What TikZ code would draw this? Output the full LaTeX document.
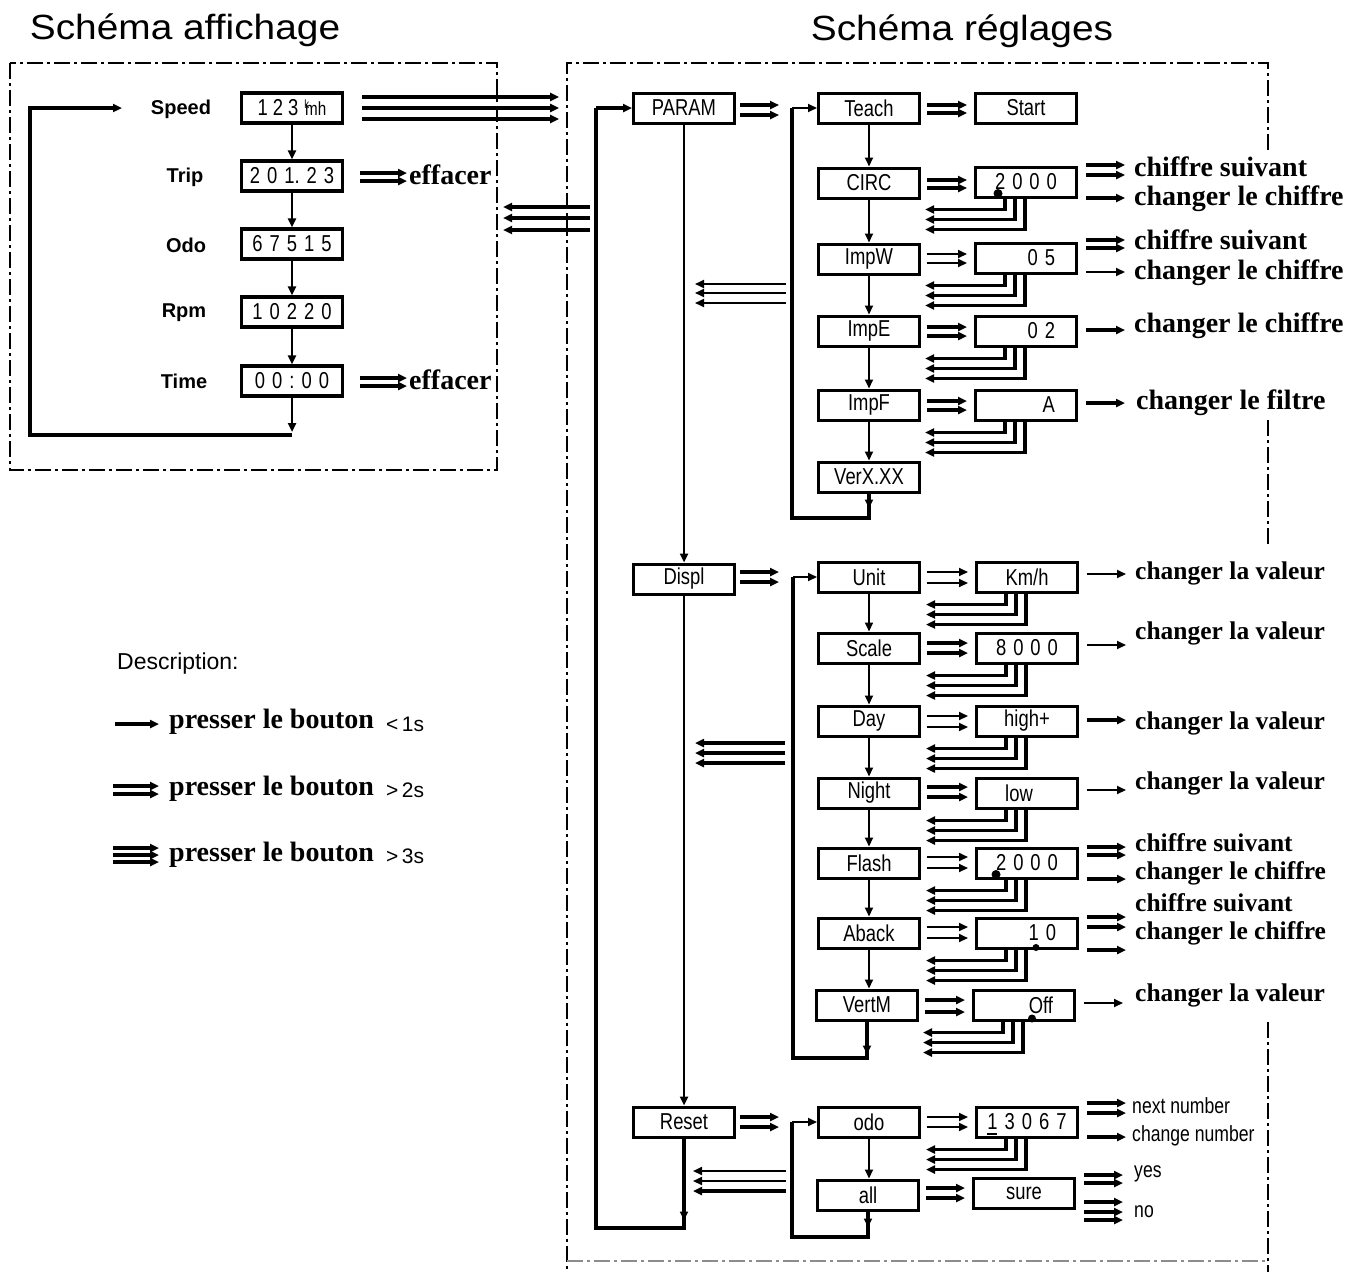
\documentclass[tikz,border=0pt]{standalone}
\usepackage{fontspec}
\usetikzlibrary{arrows.meta,calc}
\newfontfamily\ttlfont[FakeStretch=1.11]{Liberation Sans}
\newfontfamily\sansf{Liberation Sans}
\newfontfamily\narf[FakeStretch=0.8]{Liberation Sans}
\newfontfamily\serf{Liberation Serif}
\newcommand\dgap{\hspace{7pt}}
\newcommand\marr[4]{\foreach \dy in {#4} \draw[#1,ah] ($(#2.east)+(6,\dy)$) -- ($(#3.west |- #2.east)+(-7,\dy)$);}
\newcommand\rarr[3]{\foreach \dy in {#3} \draw[#1,ah] ($(#2.east)+(8,\dy)$) -- ++(39,0);}
\newcommand\retarr[1]{\foreach \dx/\dy in {-21/11,-11/21,-1/31} \draw[tk,ah] ($(#1.south)+(\dx,0)$) -- ($(#1.south)+(\dx,\dy)$) -- ($(#1.south west)+(-49,\dy)$);}
\tikzset{
  box/.style={draw, line width=3pt, minimum width=101pt, minimum height=30pt, inner sep=0pt, font=\narf\fontsize{23}{23}\selectfont},
  disp/.style={box, line width=3.2pt},
  rt/.style={text width=58pt, align=right},
  ser/.style={font=\serf\bfseries\fontsize{28}{28}\selectfont, inner sep=0pt, anchor=west},
  serl/.style={font=\serf\bfseries\fontsize{25.5}{25.5}\selectfont, inner sep=0pt, anchor=west},
  lbl/.style={font=\sansf\bfseries\fontsize{20}{20}\selectfont, inner sep=0pt},
  sm/.style={font=\narf\fontsize{22}{22}\selectfont, inner sep=0pt, anchor=west},
  ttl/.style={font=\ttlfont\fontsize{35}{35}\selectfont, inner sep=0pt},
  tk/.style={line width=3.1pt},
  tm/.style={line width=2.4pt},
  tn/.style={line width=1.8pt},
  ah/.style={-{Triangle[length=9pt,width=8pt]}},
  frame/.style={line width=2.6pt, dash pattern=on 16pt off 4pt on 3pt off 4pt},
}
\begin{document}
\begin{tikzpicture}[x=1pt,y=-1pt]
\useasboundingbox[fill=white] (0,0) rectangle (1364,1272);
% titles
\node[ttl] (t1) at (185,30) {Schéma affichage};
\node[ttl] (t2) at (962,31) {Schéma réglages};
% frames
\draw[frame] (10,63) rectangle (497,470);
\draw[frame] (1268,150) -- (1268,63) -- (567,63) -- (567,1272);
\draw[frame] (1268,420) -- (1268,545);
\draw[frame] (1268,1022) -- (1268,1272);
\draw[frame,black!45,line width=1.6pt] (567,1261) -- (1268,1261);
% left panel
\node[lbl] (lspeed) at (181,109) {Speed};
\node[lbl] (ltrip) at (185,177) {Trip};
\node[lbl] (lodo) at (186,245) {Odo};
\node[lbl] (lrpm) at (184,313) {Rpm};
\node[lbl] (ltime) at (184,381) {Time};
\node[disp] (dspeed) at (292,108) {1\hspace{5pt}2\hspace{5pt}3\hspace{6pt}\raisebox{7pt}{\fontsize{12}{12}\selectfont k}\kern-4pt{\fontsize{19}{19}\selectfont mh}};
\node[disp] (dtrip) at (292,176) {2\dgap0\dgap1.\dgap2\dgap3};
\node[disp] (dodo) at (292,244) {6\dgap7\dgap5\dgap1\dgap5};
\node[disp] (drpm) at (292,312) {1\dgap0\dgap2\dgap2\dgap0};
\node[disp] (dtime) at (292,381) {0\dgap0\dgap:\dgap0\dgap0};
\draw[tm,ah] (dspeed) -- (dtrip);
\draw[tm,ah] (dtrip) -- (dodo);
\draw[tm,ah] (dodo) -- (drpm);
\draw[tm,ah] (drpm) -- (dtime);
\coordinate (lb0) at (292,435);
\coordinate (lb1) at (30,435);
\coordinate (lb2) at (30,108);
\coordinate (lb3) at (122,108);
\draw[tm,ah] (dtime.south) -- ($(lb0)+(0,-3)$);
\draw[tk,ah] (lb0) -- (lb1) -- (lb2) -- (lb3);
\foreach \dy in {-11,0,11} \draw[tk,ah] ($(dspeed.east)+(18,\dy)$) -- ++(197,0);
\node[ser] (ef1) at (409,175) {effacer};
\node[ser] (ef2) at (409,380) {effacer};
\foreach \dy in {-3,5} \draw[tk,ah] ($(dtrip.east)+(16,\dy)$) -- ($(ef1.west |- dtrip.east)+(-2,\dy)$);
\foreach \dy in {-3,5} \draw[tk,ah] ($(dtime.east)+(16,\dy)$) -- ($(ef2.west |- dtime.east)+(-2,\dy)$);
\coordinate (retL) at (590,218);
\foreach \dy in {-11,0,12} \draw[tk,ah] ($(retL)+(0,\dy)$) -- ++(-87,0);
% legend
\node[font=\sansf\fontsize{23}{23}\selectfont, inner sep=0pt, anchor=west] (desc) at (117,664) {Description:};
\node[ser] (lg1) at (169,722) {presser le bouton};
\node[ser] (lg2) at (169,789) {presser le bouton};
\node[ser] (lg3) at (169,855) {presser le bouton};
\node[font=\sansf\fontsize{21}{21}\selectfont, inner sep=0pt, anchor=west] (lg1b) at (386,724) {<\,1s};
\node[font=\sansf\fontsize{21}{21}\selectfont, inner sep=0pt, anchor=west] (lg2b) at (386,790) {>\,2s};
\node[font=\sansf\fontsize{21}{21}\selectfont, inner sep=0pt, anchor=west] (lg3b) at (386,856) {>\,3s};
\draw[tk,ah] ($(lg1.west)+(-54,2)$) -- ($(lg1.west)+(-10,2)$);
\foreach \dy in {-3,5} \draw[tk,ah] ($(lg2.west)+(-56,\dy)$) -- ($(lg2.west)+(-10,\dy)$);
\foreach \dy in {-7,0,7} \draw[tk,ah] ($(lg3.west)+(-56,\dy)$) -- ($(lg3.west)+(-10,\dy)$);
% right panel nodes
\node[box] (param) at (684,108) {PARAM};
\node[box] (teach) at (869,108) {Teach};
\node[box] (start) at (1026,108) {Start};
\node[box] (circ) at (869,183) {CIRC};
\node[box] (vcirc) at (1026,182) {2\dgap0\dgap0\dgap0};
\node[box] (impw) at (869,259) {ImpW};
\node[box,rt] (vimpw) at (1026,258) {0\dgap5};
\node[box] (impe) at (869,331) {ImpE};
\node[box,rt] (vimpe) at (1026,331) {0\dgap2};
\node[box] (impf) at (869,405) {ImpF};
\node[box,rt] (vimpf) at (1026,405) {A};
\node[box] (verx) at (869,477) {VerX.XX};
\node[box] (displ) at (684,579) {Displ};
\node[box] (unit) at (869,577) {Unit};
\node[box] (vunit) at (1027,577) {Km/h};
\node[box] (scale) at (869,648) {Scale};
\node[box] (vscale) at (1027,648) {8\dgap0\dgap0\dgap0};
\node[box] (day) at (869,721) {Day};
\node[box] (vday) at (1027,721) {high+};
\node[box] (night) at (869,793) {Night};
\node[box] (vnight) at (1027,793) {\hspace*{-16pt}low};
\node[box] (flash) at (869,863) {Flash};
\node[box] (vflash) at (1027,863) {2\dgap0\dgap0\dgap0};
\node[box] (aback) at (869,933) {Aback};
\node[box,rt] (vaback) at (1027,933) {1\dgap0};
\node[box] (vertm) at (867,1005) {VertM};
\node[box,rt] (voff) at (1024,1005) {Off};
\node[box] (reset) at (684,1122) {Reset};
\node[box] (odo) at (869,1122) {odo};
\node[box] (vodo) at (1027,1122) {1\dgap3\dgap0\dgap6\dgap7};
\node[box] (all) at (868,1195) {all};
\node[box] (sure) at (1024,1193) {sure};
% cursors
\fill ($(vcirc.south west)+(24,-5)$) circle (4.5);
\fill ($(vflash.south west)+(21,-5)$) circle (4.5);
\fill ($(vaback.south west)+(61,-2)$) circle (3.5);
\fill ($(voff.south west)+(60,-3)$) circle (4);
\fill ($(vodo.south west)+(12,-4)$) rectangle ++(10,-2);
% vertical chains
\draw[tm,ah] (param.south) -- (param.south |- displ.north);
\draw[tm,ah] (displ.south) -- (displ.south |- reset.north);
\draw[tn,ah] (teach) -- (circ);
\draw[tn,ah] (circ) -- (impw);
\draw[tn,ah] (impw) -- (impe);
\draw[tn,ah] (impe) -- (impf);
\draw[tn,ah] (impf) -- (verx);
\draw[tn,ah] (unit) -- (scale);
\draw[tn,ah] (scale) -- (day);
\draw[tn,ah] (day) -- (night);
\draw[tn,ah] (night) -- (flash);
\draw[tn,ah] (flash) -- (aback);
\draw[tn,ah] (aback.south) -- (aback.south |- vertm.north);
\draw[tn,ah] (odo.south) -- (odo.south |- all.north);
% loops
\coordinate (pa1) at (869,518);
\coordinate (pa2) at (792,518);
\coordinate (pa3) at (792,108);
\draw[tk] (verx.south) -- (pa1) -- (pa2) -- (pa3);
\draw[tn,ah] (verx.south) -- ++(0,15);
\draw[tn,ah] (pa3) -- (teach);
\coordinate (pb1) at (867,1058);
\coordinate (pb2) at (793,1058);
\coordinate (pb3) at (793,577);
\draw[tk] (vertm.south) -- (pb1) -- (pb2) -- (pb3);
\draw[tn,ah] (vertm.south) -- ++(0,33);
\draw[tn,ah] (pb3) -- (unit);
\coordinate (pc1) at (868,1237);
\coordinate (pc2) at (792,1237);
\coordinate (pc3) at (792,1122);
\draw[tk] (all.south) -- (pc1) -- (pc2) -- (pc3);
\draw[tn,ah] (all.south) -- ++(0,16);
\draw[tn,ah] (pc3) -- (odo);
\coordinate (pm1) at (684,1228);
\coordinate (pm2) at (596,1228);
\coordinate (pm3) at (596,108);
\draw[tk] (reset.south) -- (pm1) -- (pm2) -- (pm3);
\draw[tn,ah] (reset.south) -- ++(0,82);
\draw[tk,ah] (pm3) -- (param);
% returns to main column
\foreach \dy in {284,293,303} \draw[tn,ah] (pa3 |- 0,\dy) ++(-6,0) -- ++(-91,0);
\foreach \dy in {743,753,763} \draw[tk,ah] (pb3 |- 0,\dy) ++(-8,0) -- ++(-90,0);
\foreach \dy in {1171,1181} \draw[tn,ah] (pc3 |- 0,\dy) ++(-6,0) -- ++(-93,0);
\draw[tk,ah] (pc3 |- 0,1191) ++(-6,0) -- ++(-93,0);
% group arrows
\foreach \dy in {-3,7} \draw[tk,ah] ($(param.east)+(4,\dy)$) -- ($(teach.west |- param.east)+(-38,\dy)$);
\foreach \dy in {-7,3} \draw[tk,ah] ($(displ.east)+(4,\dy)$) -- ($(unit.west |- displ.east)+(-38,\dy)$);
\foreach \dy in {-5,5} \draw[tk,ah] ($(reset.east)+(4,\dy)$) -- ($(odo.west |- reset.east)+(-38,\dy)$);
% key to value
\marr{tk}{teach}{start}{-3,5}
\marr{tk}{circ}{vcirc}{-3,5}
\marr{tn}{impw}{vimpw}{-5,4}
\marr{tk}{impe}{vimpe}{-4,5}
\marr{tk}{impf}{vimpf}{-4,5}
\marr{tn}{unit}{vunit}{-5,6}
\marr{tk}{scale}{vscale}{-5,5}
\marr{tn}{day}{vday}{-5,6}
\marr{tk}{night}{vnight}{-6,4}
\marr{tn}{flash}{vflash}{-6,5}
\marr{tn}{aback}{vaback}{-6,5}
\marr{tk}{vertm}{voff}{-5,7}
\marr{tn}{odo}{vodo}{-5,5}
\marr{tk}{all}{sure}{-7,3}
% returns from values
\retarr{vcirc}
\retarr{vimpw}
\retarr{vimpe}
\retarr{vimpf}
\retarr{vunit}
\retarr{vscale}
\retarr{vday}
\retarr{vnight}
\retarr{vflash}
\retarr{vaback}
\retarr{voff}
\retarr{vodo}
% right texts
\node[ser] (c1a) at (1134,167) {chiffre suivant};
\node[ser] (c1b) at (1134,199) {changer le chiffre};
\node[ser] (c2a) at (1134,240) {chiffre suivant};
\node[ser] (c2b) at (1134,273) {changer le chiffre};
\node[ser] (c3) at (1134,326) {changer le chiffre};
\node[ser] (c4) at (1136,403) {changer le filtre};
\node[serl] (c5) at (1135,573) {changer la valeur};
\node[serl] (c6) at (1135,633) {changer la valeur};
\node[serl] (c7) at (1135,723) {changer la valeur};
\node[serl] (c8) at (1135,783) {changer la valeur};
\node[serl] (c9a) at (1135,843) {chiffre suivant};
\node[serl] (c9b) at (1135,873) {changer le chiffre};
\node[serl] (c10a) at (1135,903) {chiffre suivant};
\node[serl] (c10b) at (1135,933) {changer le chiffre};
\node[serl] (c11) at (1135,995) {changer la valeur};
\node[sm] (c12a) at (1132,1106) {next number};
\node[sm] (c12b) at (1132,1136) {change number};
\node[sm] (c13a) at (1134,1174) {yes};
\node[sm] (c13b) at (1134,1212) {no};
\rarr{tk}{vcirc}{-17,-7}
\rarr{tk}{vcirc}{16}
\rarr{tk}{vimpw}{-18,-10}
\rarr{tn}{vimpw}{14}
\rarr{tk}{vimpe}{-1}
\rarr{tk}{vimpf}{-2}
\rarr{tn}{vunit}{-3}
\rarr{tn}{vscale}{-3}
\rarr{tk}{vday}{-1}
\rarr{tn}{vnight}{-3}
\rarr{tk}{vflash}{-16,-8}
\rarr{tk}{vflash}{16}
\rarr{tk}{vaback}{-16,-6}
\rarr{tk}{vaback}{17}
\rarr{tn}{voff}{-2}
\rarr{tk}{vodo}{-19,-9}
\rarr{tk}{vodo}{15}
\rarr{tk}{sure}{-18,-10}
\rarr{tk}{sure}{9,19,27}
\end{tikzpicture}
\end{document}
